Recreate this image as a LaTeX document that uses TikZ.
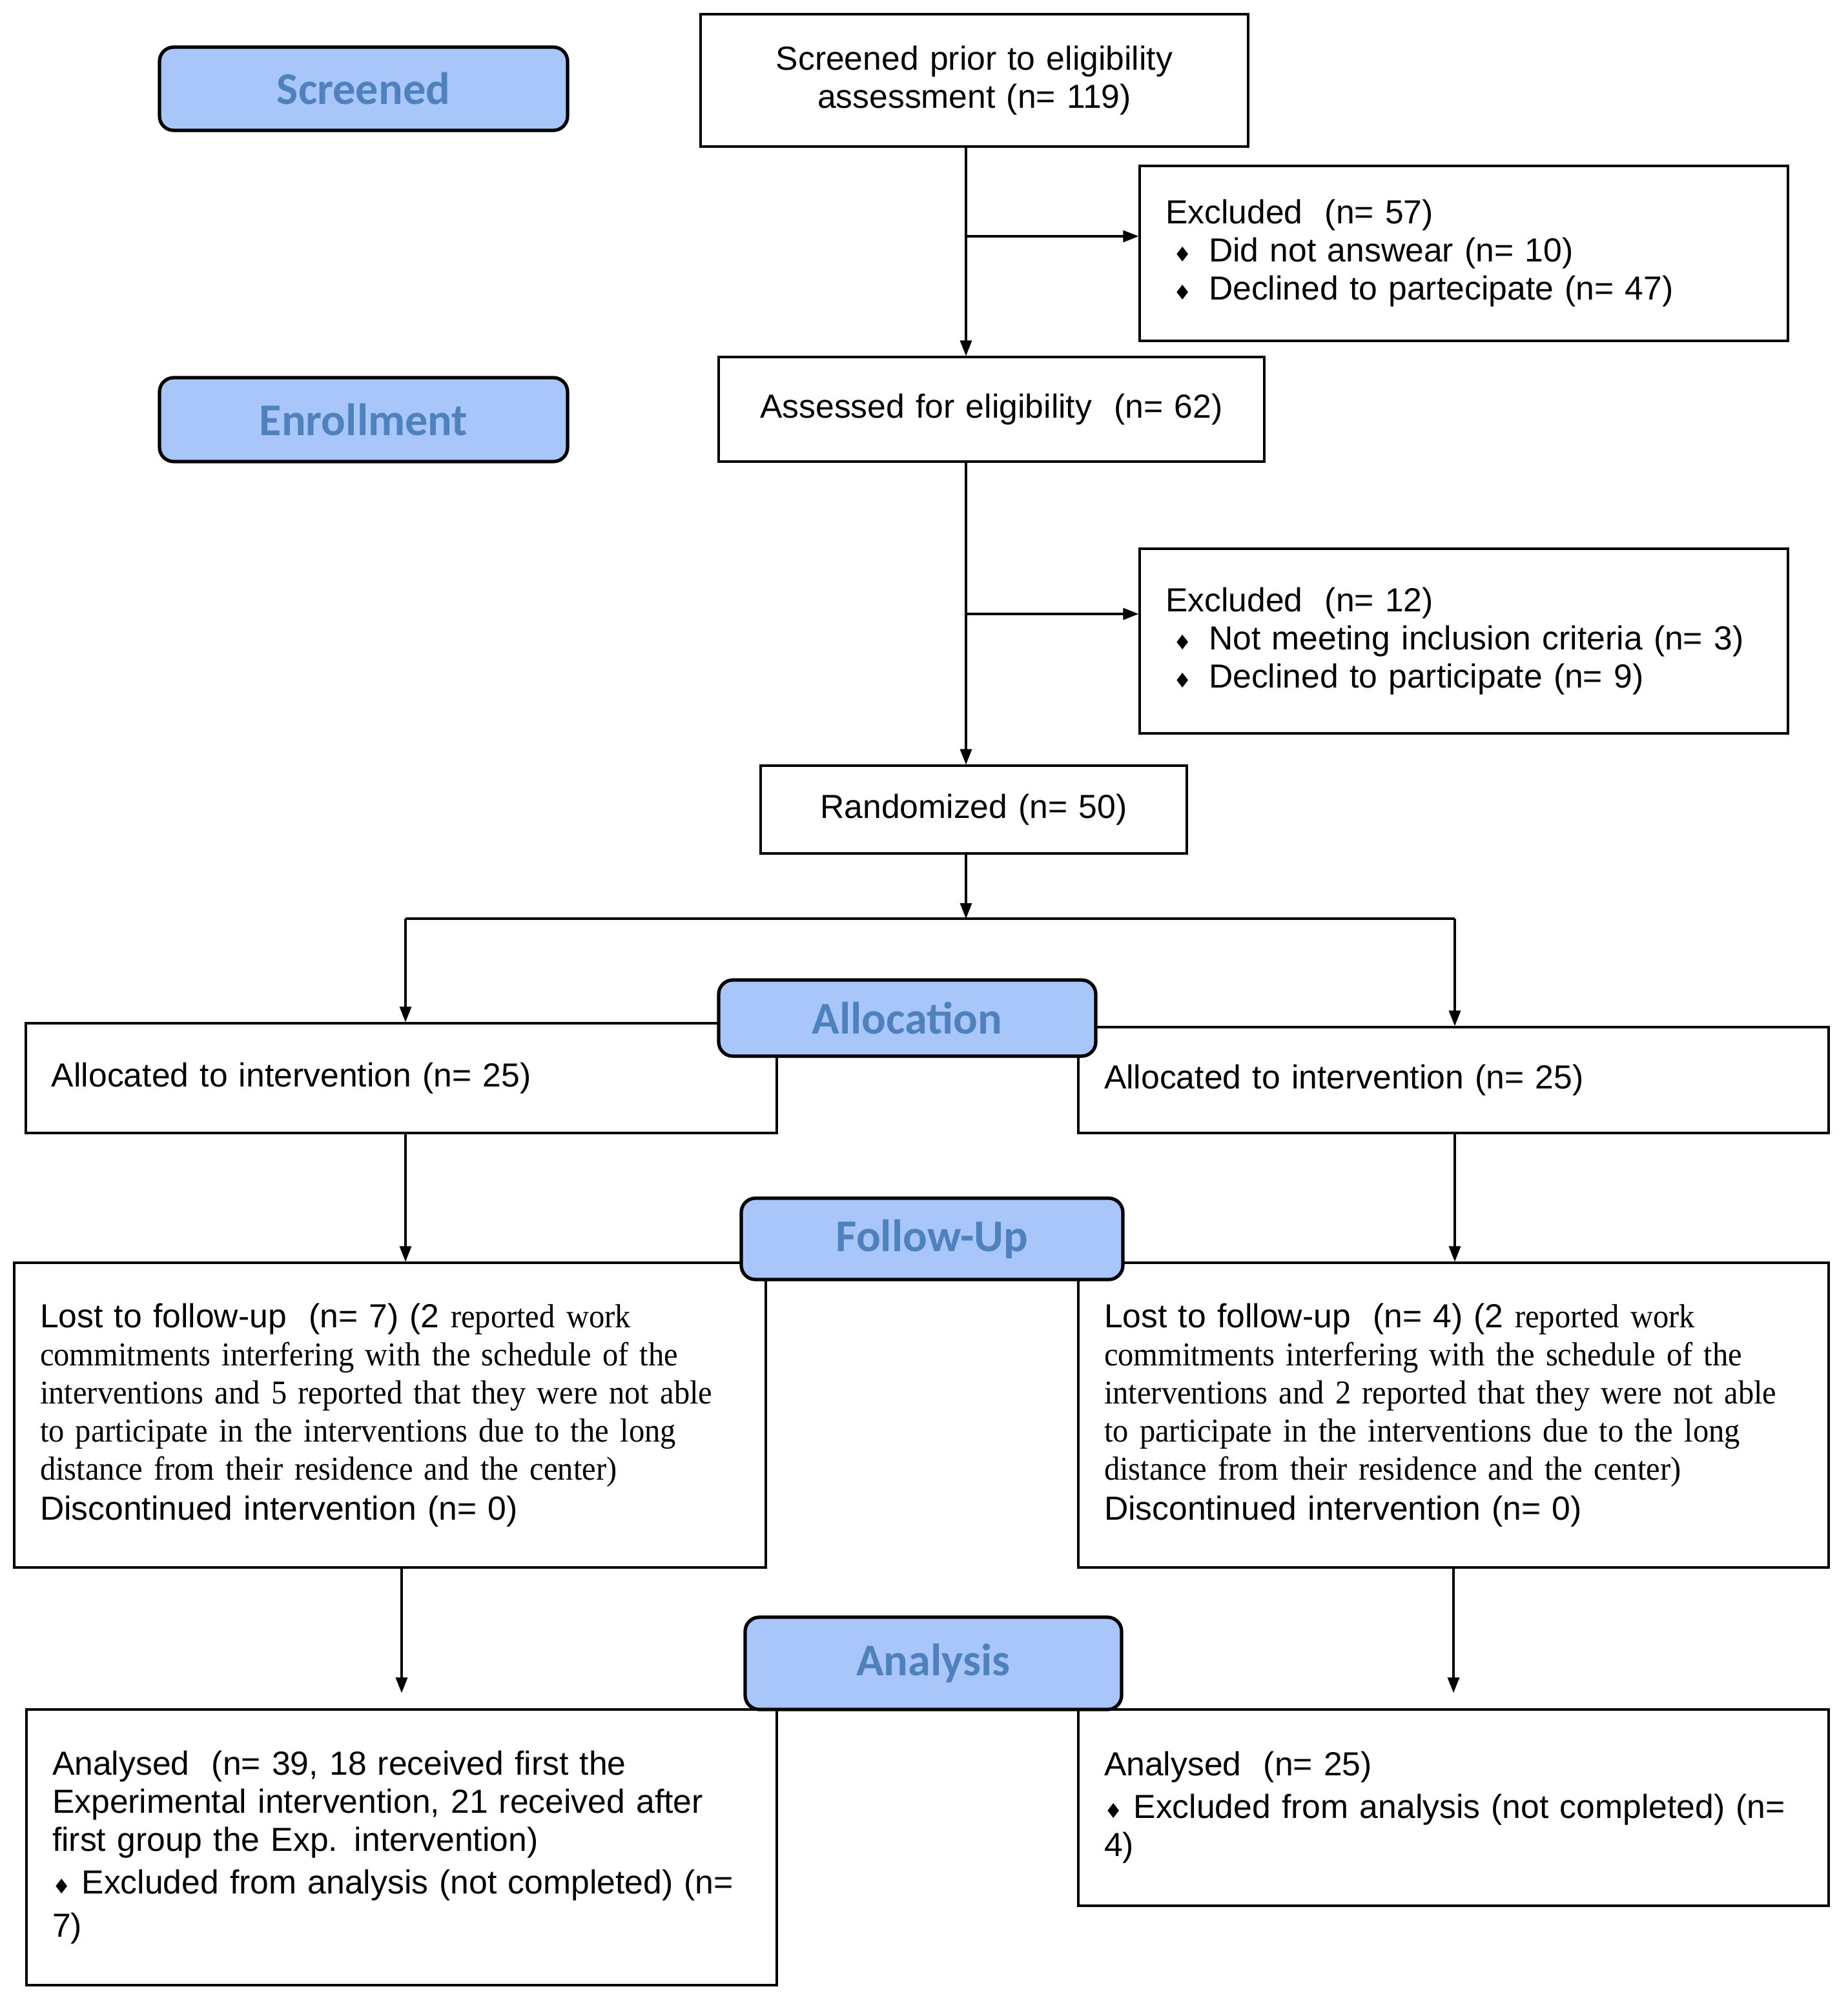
\documentclass[tikz,border=0pt]{standalone}
\usepackage{fontspec}
\setmainfont{Liberation Sans}
\newfontfamily\tnr[FakeStretch=0.94]{Liberation Serif}
\newfontfamily\lbfont{Carlito}
\newfontfamily\symfont{DejaVu Sans}
\usetikzlibrary{arrows.meta, calc}
\definecolor{stagefill}{RGB}{169,198,250}
\definecolor{stagetext}{RGB}{79,129,189}
\newcommand{\dmd}{{\symfont\fontsize{9}{9}\selectfont ♦}}
\newcommand{\bul}{\makebox[0.67cm][l]{\hspace{0.12cm}\dmd}}

\begin{document}
\begin{tikzpicture}[line width=0.9pt,
    box/.style={draw, inner xsep=0.4cm, inner ysep=0pt, align=left, font=\fontsize{14.7}{16.8}\selectfont},
    stage/.style={draw, line width=1.5pt, rounded corners=0.22cm, fill=stagefill, text=stagetext, inner sep=0pt, font=\lbfont\bfseries\fontsize{20}{24}\selectfont},
    flow/.style={-{Triangle[length=0.24cm, width=0.18cm]}}]
    \useasboundingbox (0,0) rectangle (28.61,-30.98);
    % boxes
    \node[box, align=center, text width=7.68cm, minimum height=2.05cm] (scr) at (15.09,-1.245) {Screened prior to eligibility\\assessment (n= 119)};
    \node[box, text width=9.24cm, minimum height=2.71cm] (exc1) at (22.67,-3.925) {Excluded\ \ (n= 57)\\\bul Did not answear (n= 10)\\\bul Declined to partecipate (n= 47)};
    \node[box, align=center, text width=7.65cm, minimum height=1.62cm] (ass) at (15.355,-6.34) {Assessed for eligibility\ \ (n= 62)};
    \node[box, text width=9.24cm, minimum height=2.86cm] (exc2) at (22.67,-9.93) {Excluded\ \ (n= 12)\\\bul Not meeting inclusion criteria (n= 3)\\\bul Declined to participate (n= 9)};
    \node[box, align=center, text width=5.8cm, minimum height=1.36cm] (rand) at (15.08,-12.54) {Randomized (n= 50)};
    \node[box, text width=10.83cm, minimum height=1.70cm] (allocL) at (6.215,-16.70) {Allocated to intervention (n= 25)};
    \node[box, text width=10.82cm, minimum height=1.64cm] (allocR) at (22.51,-16.73) {Allocated to intervention (n= 25)};
    \node[box, text width=10.84cm, minimum height=4.72cm] (lostL) at (6.04,-21.92) {Lost to follow-up\ \ (n= 7) (2 {\tnr reported work}\\
        {\tnr commitments interfering with the schedule of the}\\
        {\tnr interventions and 5 reported that they were not able}\\
        {\tnr to participate in the interventions due to the long}\\
        {\tnr distance from their residence and the center)}\\[1pt]
        Discontinued intervention (n= 0)};
    \node[box, text width=10.82cm, minimum height=4.72cm] (lostR) at (22.51,-21.92) {Lost to follow-up\ \ (n= 4) (2 {\tnr reported work}\\
        {\tnr commitments interfering with the schedule of the}\\
        {\tnr interventions and 2 reported that they were not able}\\
        {\tnr to participate in the interventions due to the long}\\
        {\tnr distance from their residence and the center)}\\[1pt]
        Discontinued intervention (n= 0)};
    \node[box, text width=10.82cm, minimum height=4.27cm] (anaL) at (6.22,-28.615) {Analysed\ \ (n= 39, 18 received first the\\
        Experimental intervention, 21 received after\\
        first group the Exp. intervention)\\[2pt]
        \dmd\ Excluded from analysis (not completed) (n=\\[2pt]
        7)};
    \node[box, text width=10.82cm, minimum height=3.04cm] (anaR) at (22.51,-28.0) {Analysed\ \ (n= 25)\\[2pt]
        \dmd\ Excluded from analysis (not completed) (n=\\
        4)};
    % connectors
    \coordinate (sp) at (14.96,0);
    \coordinate (b1) at (14.96,-3.66);
    \coordinate (b2) at (14.96,-9.51);
    \coordinate (split) at (14.96,-14.23);
    \coordinate (sl) at (6.28,-14.23);
    \coordinate (sr) at (22.53,-14.23);
    \draw[flow] (scr.south -| sp) -- (ass.north -| sp);
    \draw[flow] (b1) -- (b1 -| exc1.west);
    \draw[flow] (ass.south -| sp) -- (rand.north -| sp);
    \draw[flow] (b2) -- (b2 -| exc2.west);
    \draw[flow] (rand.south -| sp) -- (split);
    \draw (sl) -- (sr);
    \draw[flow] (sl) -- (sl |- allocL.north);
    \draw[flow] (sr) -- (sr |- allocR.north);
    \draw[flow] (sl |- allocL.south) -- (sl |- lostL.north);
    \draw[flow] (sr |- allocR.south) -- (sr |- lostR.north);
    \draw[flow, shorten >=0.24cm] (anaL.north |- lostL.south) -- (anaL.north);
    \draw[flow, shorten >=0.24cm] (anaR.north |- lostR.south) -- (anaR.north);
    % stage labels
    \node[stage, minimum width=6.32cm, minimum height=1.29cm] (lscr) at (5.63,-1.375) {Screened};
    \node[stage, minimum width=6.32cm, minimum height=1.30cm] (lenr) at (5.63,-6.50) {Enrollment};
    \node[stage, minimum width=5.84cm, minimum height=1.18cm] (lall) at (14.05,-15.77) {Allocation};
    \node[stage, minimum width=5.91cm, minimum height=1.26cm] (lfol) at (14.435,-19.19) {Follow-Up};
    \node[stage, minimum width=5.83cm, minimum height=1.43cm] (lana) at (14.455,-25.765) {Analysis};
\end{tikzpicture}
\end{document}
